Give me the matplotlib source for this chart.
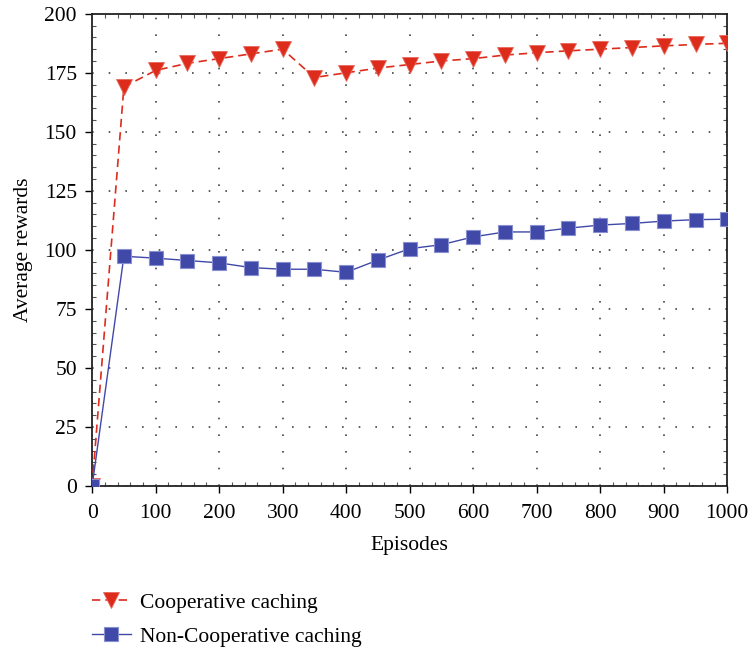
import numpy as np
import matplotlib.pyplot as plt
from matplotlib.ticker import MultipleLocator

plt.rcParams['font.family'] = ['Liberation Serif', 'DejaVu Serif']

# Episodes sampled every 50
episodes = np.arange(0, 1001, 50)

coop = [0, 169, 176, 179, 181, 183, 185, 173, 175, 177, 178.5,
        180, 181, 182.5, 183.5, 184.3, 185, 185.7, 186.4, 187, 187.5]
non_coop = [0, 97.3, 96.5, 95.5, 94.5, 92.5, 91.8, 91.8, 90.5, 95.7, 100.5,
            102.2, 105.5, 107.6, 107.6, 109.2, 110.5, 111.2, 112.2, 112.8, 113]

red = '#dd2c1c'
blue = '#4048a8'

fig = plt.figure(figsize=(7.49, 6.55), dpi=100)
ax = fig.add_axes([0.123, 0.258, 0.848, 0.721])

ax.plot(episodes, coop, color=red, linestyle=(0, (5, 3)), linewidth=1.2,
        marker='v', markersize=11, markerfacecolor=red,
        markeredgecolor='#e8685c', markeredgewidth=0.6,
        label='Cooperative caching', zorder=3)
ax.plot(episodes, non_coop, color=blue, linestyle='-', linewidth=1.0,
        marker='s', markersize=10, markerfacecolor=blue,
        markeredgecolor='#8890d0', markeredgewidth=0.8,
        label='Non-Cooperative caching', zorder=3)

ax.set_xlim(0, 1000)
ax.set_ylim(0, 200)
ax.xaxis.set_major_locator(MultipleLocator(100))
ax.yaxis.set_major_locator(MultipleLocator(25))
ax.xaxis.set_minor_locator(MultipleLocator(20))
ax.yaxis.set_minor_locator(MultipleLocator(5))

ax.grid(True, which='major', color='#444444', linestyle=(0, (1, 9)),
        linewidth=1.2)
ax.tick_params(axis='both', which='major', direction='out', length=5,
               width=1, labelsize=15.5, pad=6)
ax.tick_params(axis='x', which='major', pad=8)
ax.tick_params(axis='both', which='minor', direction='in', length=3,
               width=0.8, top=True, right=True, color='#555555')
for side in ax.spines.values():
    side.set_linewidth(1.3)
    side.set_color('#222222')

ax.set_xlabel('Episodes', fontsize=15.5, labelpad=9)
ax.set_ylabel('Average rewards', fontsize=15.5, labelpad=8)

fig.legend(loc='center left', bbox_to_anchor=(0.097, 0.054), frameon=False,
           fontsize=15.5, handlelength=1.8, handletextpad=0.45,
           labelspacing=0.65)

fig.savefig('out.png', dpi=100)
